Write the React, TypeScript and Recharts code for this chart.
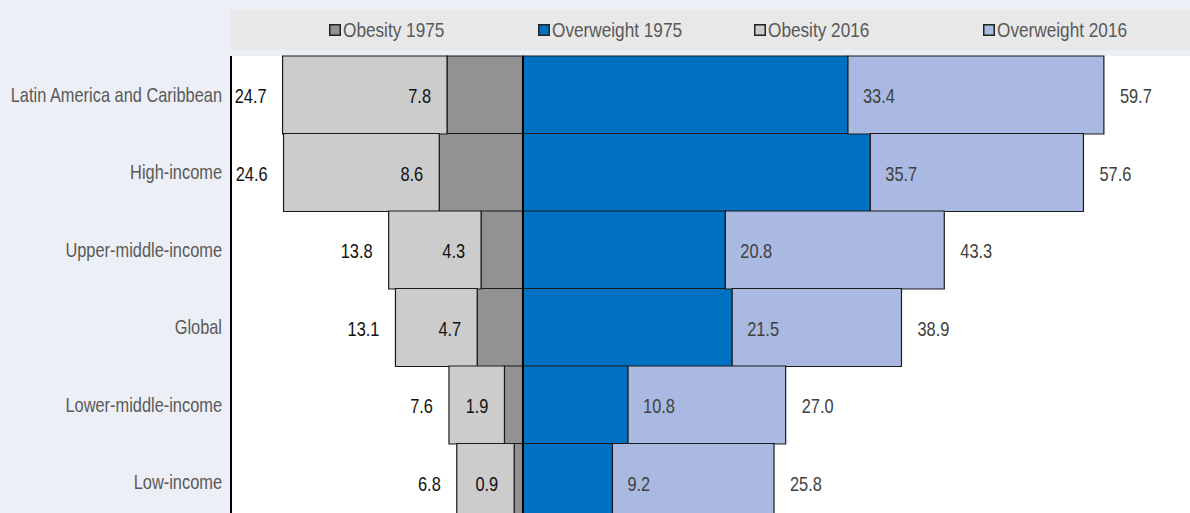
import React from "react";
import { BarChart, Bar, XAxis, YAxis, CartesianGrid, LabelList, ReferenceLine } from "recharts";

const categories = [
  "Latin America and Caribbean",
  "High-income",
  "Upper-middle-income",
  "Global",
  "Lower-middle-income",
  "Low-income",
];
const obesity1975 = [7.8, 8.6, 4.3, 4.7, 1.9, 0.9];
const obesity2016 = [24.7, 24.6, 13.8, 13.1, 7.6, 6.8];
const overweight1975 = [33.4, 35.7, 20.8, 21.5, 10.8, 9.2];
const overweight2016 = [59.7, 57.6, 43.3, 38.9, 27.0, 25.8];

const seriesNames = ["Obesity 1975", "Overweight 1975", "Obesity 2016", "Overweight 2016"];
const seriesColors = ["#929292", "#0070c0", "#cccccc", "#a9b9e2"];

const data = categories.map((name, i) => ({
  name,
  ob1975: obesity1975[i],
  ob2016: obesity2016[i],
  ow1975: overweight1975[i],
  ow2016: overweight2016[i],
  ob1975Neg: -obesity1975[i],
  ob2016Rest: -(obesity2016[i] - obesity1975[i]),
  ow1975Pos: overweight1975[i],
  ow2016Rest: overweight2016[i] - overweight1975[i],
}));

const FONT = "'Liberation Sans', Arial, sans-serif";
const SX = 0.82;
const fmt = (v: any) => Number(v).toFixed(1);

function NarrowText({ x, y, anchor, fill, size = 20, children }: any) {
  return (
    <text
      transform={`translate(${x},${y}) scale(${SX},1)`}
      textAnchor={anchor}
      dominantBaseline="central"
      fill={fill}
      fontSize={size}
      fontFamily={FONT}
    >
      {children}
    </text>
  );
}

function rectOf(p: any) {
  const vb = p.viewBox && p.viewBox.width !== undefined ? p.viewBox : p;
  const x = Number(vb.x);
  const w = Number(vb.width);
  const y = Number(vb.y);
  const h = Number(vb.height);
  return { left: Math.min(x, x + w), right: Math.max(x, x + w), cy: y + h / 2 };
}

const makeLabel = (side: "outLeft" | "inRight" | "outRight" | "inLeft", fill: string, offset: number) => (p: any) => {
  const r = rectOf(p);
  let x = 0;
  let anchor = "start";
  if (side === "outLeft") { x = r.left - offset; anchor = "end"; }
  if (side === "inRight") { x = r.right - offset; anchor = "end"; }
  if (side === "outRight") { x = r.right + offset; anchor = "start"; }
  if (side === "inLeft") { x = r.left + offset; anchor = "start"; }
  return (
    <NarrowText x={x} y={r.cy + 1} anchor={anchor} fill={fill}>
      {fmt(p.value)}
    </NarrowText>
  );
};

function CategoryTick(props: any) {
  const { x, y, payload } = props;
  return (
    <NarrowText x={x} y={y} anchor="end" fill="#595959">
      {payload.value}
    </NarrowText>
  );
}

const legendX = [99, 308, 524, 753];

export default function App() {
  return (
    <div style={{ position: "relative", width: 1190, height: 513, overflow: "hidden", background: "#eceff6" }}>
      <style>{"body{margin:0;overflow:hidden}"}</style>
      <svg width={960} height={40} style={{ position: "absolute", top: 10, left: 230 }}>
        <rect x={0} y={0} width={960} height={40} fill="#e8e8e8" />
        {seriesNames.map((n, i) => (
          <g key={n}>
            <rect x={legendX[i] + 0.75} y={14.75} width={10.5} height={10.5} fill={seriesColors[i]} stroke="#222" strokeWidth={1.5} />
            <NarrowText x={legendX[i] + 14} y={20} anchor="start" fill="#595959" size={21}>
              {n}
            </NarrowText>
          </g>
        ))}
      </svg>
      <div style={{ position: "absolute", top: 0, left: 0 }}>
        <BarChart
          width={1190}
          height={521}
          data={data}
          layout="vertical"
          stackOffset="sign"
          barCategoryGap={0}
          margin={{ top: 56, right: 0, bottom: 0, left: 0 }}
        >
          <CartesianGrid fill="#ffffff" horizontal={false} vertical={false} stroke="none" />
          <XAxis
            type="number"
            orientation="top"
            domain={[-30, 68.55]}
            allowDataOverflow
            ticks={[]}
            tick={false}
            tickLine={false}
            height={0}
            axisLine={{ stroke: "#000", strokeWidth: 2 }}
          />
          <YAxis
            type="category"
            dataKey="name"
            width={231}
            tickLine={false}
            tickSize={0}
            tickMargin={9}
            axisLine={{ stroke: "#000", strokeWidth: 2 }}
            tick={<CategoryTick />}
          />
          <Bar dataKey="ob1975Neg" stackId="a" fill={seriesColors[0]} stroke="#1a1a1a" strokeWidth={1.2} isAnimationActive={false} />
          <Bar dataKey="ob2016Rest" stackId="a" fill={seriesColors[2]} stroke="#1a1a1a" strokeWidth={1.2} isAnimationActive={false}>
            <LabelList dataKey="ob2016" content={makeLabel("outLeft", "#111", 16)} />
            <LabelList dataKey="ob1975" content={makeLabel("inRight", "#111", 16)} />
          </Bar>
          <Bar dataKey="ow1975Pos" stackId="a" fill={seriesColors[1]} stroke="#1a1a1a" strokeWidth={1.2} isAnimationActive={false} />
          <Bar dataKey="ow2016Rest" stackId="a" fill={seriesColors[3]} stroke="#1a1a1a" strokeWidth={1.2} isAnimationActive={false}>
            <LabelList dataKey="ow2016" content={makeLabel("outRight", "#404040", 16)} />
            <LabelList dataKey="ow1975" content={makeLabel("inLeft", "#404040", 15)} />
          </Bar>
          <ReferenceLine x={0} stroke="#000" strokeWidth={2} />
        </BarChart>
      </div>
    </div>
  );
}
